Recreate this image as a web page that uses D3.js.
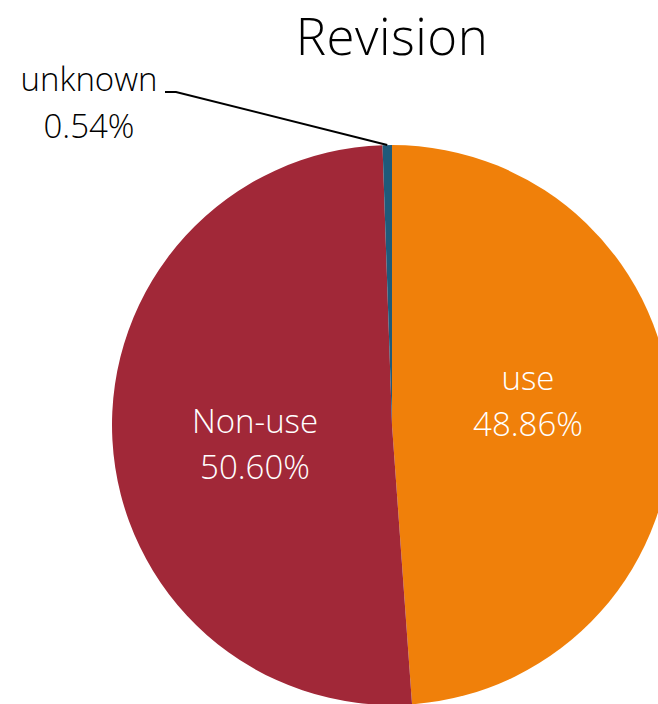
<!DOCTYPE html>
<html><head><meta charset="utf-8">
<script src="https://cdn.jsdelivr.net/npm/d3@7"></script>
<style>body{margin:0;background:#fff;overflow:hidden}</style>
</head><body>
<svg id="c" width="658" height="704"></svg>
<script>
const categories = ["use", "Non-use", "unknown"];
const values = [48.86, 50.60, 0.54];
const labels = ["48.86%", "50.60%", "0.54%"];
const colors = ["#F0800A", "#A12838", "#1F5A7A"];
const title = "Revision";

const svg = d3.select("#c");
const cx = 392, cy = 425, r = 280;
const font = "'Open Sans', Lato, sans-serif";

svg.append("text").attr("x", cx).attr("y", 55).attr("text-anchor", "middle")
  .attr("font-family", font).attr("font-weight", 300).attr("font-size", 51)
  .attr("letter-spacing", 0.5).attr("fill", "#000").text(title);

const data = categories.map((c, i) => ({cat: c, value: values[i], label: labels[i], color: colors[i]}));
const pie = d3.pie().value(d => d.value).sort(null);
const arc = d3.arc().innerRadius(0).outerRadius(r);
const arcs = pie(data);
const g = svg.append("g").attr("transform", `translate(${cx},${cy})`);
g.selectAll("path").data(arcs).join("path")
  .attr("d", arc).attr("fill", d => d.data.color);

// inside labels
const inPos = {"use": [136, -35], "Non-use": [-137, 8]};
arcs.forEach(a => {
  const p = inPos[a.data.cat];
  if (!p) return;
  const t = g.append("text").attr("text-anchor", "middle").attr("font-family", font)
    .attr("font-weight", 300).attr("font-size", 33).attr("fill", "#fff");
  t.append("tspan").attr("x", p[0]).attr("y", p[1]).text(a.data.cat);
  t.append("tspan").attr("x", p[0]).attr("y", p[1] + 46).text(a.data.label);
});

// outside label for unknown
const u = arcs[2];
const mid = (u.startAngle + u.endAngle) / 2;
const ex = cx + r * Math.sin(mid), ey = cy - r * Math.cos(mid);
svg.append("polyline")
  .attr("points", `${165},${92} ${176},${92} ${ex},${ey}`)
  .attr("fill", "none").attr("stroke", "#000").attr("stroke-width", 2);
const ut = svg.append("text").attr("text-anchor", "middle").attr("font-family", font)
  .attr("font-weight", 300).attr("font-size", 33).attr("fill", "#000");
ut.append("tspan").attr("x", 89).attr("y", 91).text(u.data.cat);
ut.append("tspan").attr("x", 89).attr("y", 138).text(u.data.label);
</script>
</body></html>
